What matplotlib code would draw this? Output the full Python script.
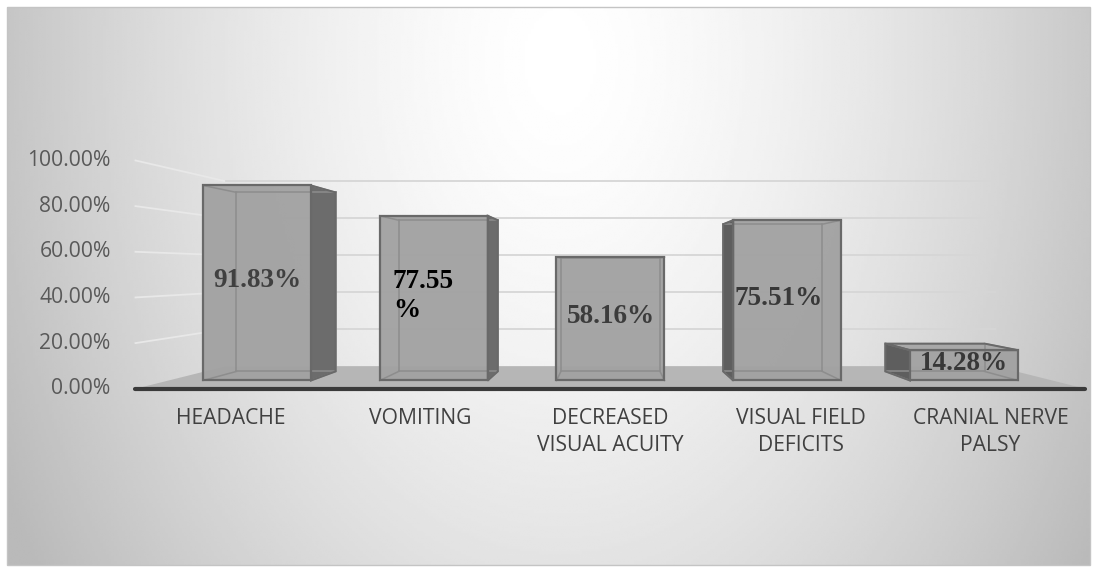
import numpy as np
import matplotlib
matplotlib.use("Agg")
import matplotlib.pyplot as plt
from matplotlib.patches import Polygon

# ---------------- data ----------------
categories = ["HEADACHE", "VOMITING", "DECREASED\nVISUAL ACUITY",
              "VISUAL FIELD\nDEFICITS", "CRANIAL NERVE\nPALSY"]
values = [91.83, 77.55, 58.16, 75.51, 14.28]
value_labels = ["91.83%", "77.55\n%", "58.16%", "75.51%", "14.28%"]
label_colors = ["#404040", "#000000", "#3c3c3c", "#383838", "#383838"]
label_ha = ["center", "left", "center", "left", "center"]
yticks = [0, 20, 40, 60, 80, 100]
ytick_labels = ["0.00%", "20.00%", "40.00%", "60.00%", "80.00%", "100.00%"]

# ---------------- figure ----------------
W, H = 1096, 572
fig = plt.figure(figsize=(W / 100, H / 100), dpi=100)
fig.patch.set_facecolor("white")

# background gradient panel
bg = fig.add_axes([0, 0, 1, 1])
bg.set_xlim(0, W)
bg.set_ylim(H, 0)
bg.axis("off")
gx, gy = np.meshgrid(np.linspace(7, 1090, 400), np.linspace(7, 565, 220))
t = np.sqrt(((gx - 560) / 610) ** 2 + ((gy - 60) / 900) ** 2)
shade = 1 - 0.26 * np.clip(t, 0, 1.3) ** 1.5
shade = np.clip(shade, 0.73, 1)
bg.imshow(shade, cmap="gray", vmin=0, vmax=1, extent=(7, 1090, 565, 7),
          aspect="auto", interpolation="bilinear")
bg.add_patch(plt.Rectangle((7, 7), 1083, 558, fill=False, ec="#c4c4c4", lw=1))

# main (perspective) axes
ax = fig.add_axes([0, 0, 1, 1])
ax.patch.set_alpha(0)
ax.set_xlim(-1.454, 4.747)
ax.set_ylim(-90.16, 179.14)
ax.axis("off")

VPX, VPY = 2.0, 52.0
F_AXIS, F_FRONT, F_BACK, F_WALL = 1.075, 1.0, 0.918, 0.87
HW = 0.3055


def proj(X, v, f):
    return (VPX + f * (X - VPX), VPY + f * (v - VPY))


n = len(categories)
xl, xr = -0.5, n - 0.5

# floor
floor = [proj(xl, 0, F_AXIS), proj(xr, 0, F_AXIS), proj(xr, 0, F_WALL), proj(xl, 0, F_WALL)]
ax.add_patch(Polygon(floor, closed=True, fc="#b6b6b6", ec="none", zorder=1))
p0, p1 = proj(xl, 0, F_AXIS), proj(xr, 0, F_AXIS)
ax.plot([p0[0], p1[0]], [p0[1], p1[1]], color="#3a3a3a", lw=3,
        solid_capstyle="round", zorder=2)

# gridlines (left wall + back wall)
for tv in yticks[1:]:
    a = proj(xl, tv, F_AXIS)
    b = proj(xl, tv, F_WALL)
    c = proj(xr, tv, F_WALL)
    ax.plot([a[0], b[0]], [a[1], b[1]], color="#e8e8e8", lw=1.3, zorder=0.5)
    ax.plot([b[0], c[0]], [b[1], c[1]], color="#d6d6d6", lw=1.3, zorder=0.5)

# y tick labels
for tv, tl in zip(yticks, ytick_labels):
    px, py = proj(xl, tv, F_AXIS)
    ax.text(px - 0.14, py, tl, ha="right", va="center", fontsize=15.2,
            family="Open Sans", color="#595959", zorder=6)

# bars
side_c, front_c, top_c = "#6c6c6c", "#a2a2a2", "#a8a8a8"
edge_c, inner_c = "#696969", "#8d8d8d"
left_pad = {1: 0.075, 3: 0.01}
for i, v in enumerate(values):
    x0, x1 = i - HW, i + HW
    FBL, FBR, FTR, FTL = proj(x0, 0, F_FRONT), proj(x1, 0, F_FRONT), proj(x1, v, F_FRONT), proj(x0, v, F_FRONT)
    BBL, BBR, BTR, BTL = proj(x0, 0, F_BACK), proj(x1, 0, F_BACK), proj(x1, v, F_BACK), proj(x0, v, F_BACK)
    faces = []
    if i < VPX - 0.01:
        faces.append(([FBR, FTR, BTR, BBR], side_c))
    elif i > VPX + 0.01:
        faces.append(([FBL, FTL, BTL, BBL], "#5e5e5e"))
    if v < VPY:
        faces.append(([FTL, FTR, BTR, BTL], top_c))
    for poly, col in faces:
        ax.add_patch(Polygon(poly, closed=True, fc=col, ec="none", zorder=3))
    ax.add_patch(Polygon([FBL, FBR, FTR, FTL], closed=True, fc=front_c, ec="none",
                         alpha=0.96, zorder=4))
    # hidden (see-through) edges
    for a, b in [(BBL, BBR), (BBR, BTR), (BTR, BTL), (BTL, BBL),
                 (FBL, BBL), (FBR, BBR), (FTR, BTR), (FTL, BTL)]:
        ax.plot([a[0], b[0]], [a[1], b[1]], color=inner_c, lw=1.1, zorder=5)
    # outlines
    for poly, col in faces:
        ax.add_patch(Polygon(poly, closed=True, fill=False, ec=edge_c, lw=1.4, zorder=6))
    ax.add_patch(Polygon([FBL, FBR, FTR, FTL], closed=True, fill=False, ec=edge_c,
                         lw=1.6, zorder=6))
    # value label
    if label_ha[i] == "left":
        lx = x0 + left_pad.get(i, 0.03)
    else:
        lx = i
    ax.text(lx, v / 2 + 1.0, value_labels[i], ha=label_ha[i], va="center",
            fontsize=19.5, fontweight="bold", family="Liberation Serif",
            color=label_colors[i], linespacing=1.2, zorder=7)

# category labels
fy = proj(xl, 0, F_AXIS)[1]
for i, c in enumerate(categories):
    cx = proj(i, 0, F_AXIS)[0]
    ax.text(cx, fy - 9.0, c, ha="center", va="top", fontsize=15.2,
            family="Open Sans", color="#404040", linespacing=1.4, zorder=6)

fig.savefig("out.png", dpi=100, facecolor="white")
